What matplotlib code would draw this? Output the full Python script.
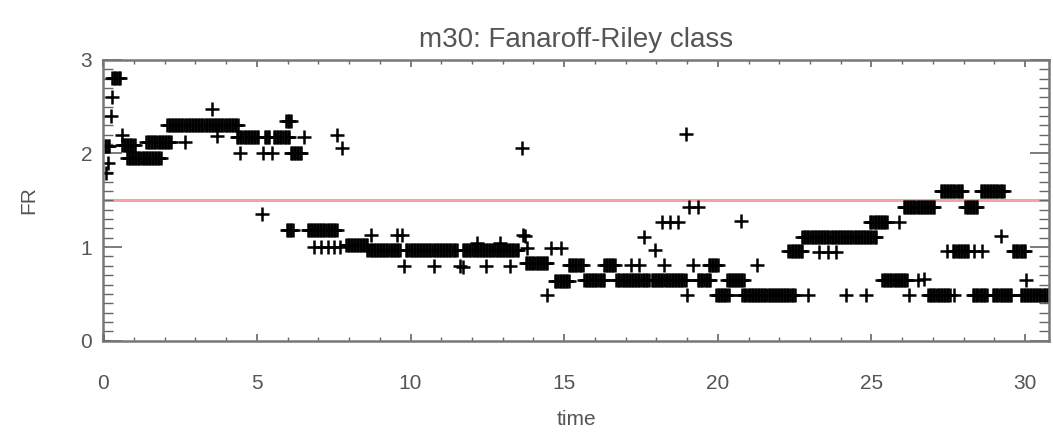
import numpy as np
import matplotlib.pyplot as plt
from matplotlib.ticker import MultipleLocator

plt.rcParams['font.family'] = ['Liberation Sans', 'DejaVu Sans']

# sampling cadence of the FR output
dt = 0.05

# stretches where the class stays at one level: start, end, FR
run_t0 = [0.30, 0.05, 0.62, 0.78, 1.40, 2.08, 4.35, 5.25, 5.55, 5.95, 6.10,
          5.97, 6.65, 7.90, 8.60, 9.85, 11.70, 13.75, 14.70, 15.15, 15.65,
          16.30, 16.70, 17.85, 19.35, 19.70, 19.95, 20.30, 20.80, 22.30,
          22.75, 24.95, 26.05, 27.25, 28.05, 28.55, 27.65, 29.60, 25.35,
          26.85, 28.30, 28.95, 29.85]
run_t1 = [0.55, 0.22, 1.00, 1.90, 2.20, 4.40, 5.05, 5.40, 6.05, 6.10, 6.45,
          6.15, 7.60, 8.60, 9.65, 11.50, 13.50, 14.45, 15.15, 15.60, 16.30,
          16.65, 17.75, 18.95, 19.75, 20.00, 20.35, 20.85, 22.50, 22.75,
          25.15, 25.50, 27.05, 27.95, 28.45, 29.30, 28.15, 30.00, 26.15,
          27.55, 28.75, 29.55, 30.77]
run_fr = [2.81, 2.08, 2.09, 1.95, 2.12, 2.30, 2.18, 2.18, 2.18, 2.35, 2.01,
          1.18, 1.18, 1.02, 0.97, 0.97, 0.97, 0.83, 0.64, 0.81, 0.65,
          0.81, 0.65, 0.65, 0.65, 0.81, 0.49, 0.65, 0.49, 0.96,
          1.11, 1.27, 1.43, 1.60, 1.43, 1.60, 0.96, 0.96, 0.65,
          0.49, 0.49, 0.49, 0.49]

# isolated samples
pt_t = [0.00, 0.30, 0.25, 0.60, 0.15, 0.10, 2.66, 3.55, 3.70, 4.46, 5.20,
        5.48, 6.55, 7.62, 7.78, 5.18, 6.85, 7.10, 7.30, 7.50, 7.70,
        8.73, 9.55, 9.72, 13.66, 13.72, 9.78, 10.76, 11.60, 11.72, 12.47,
        13.25, 12.17, 12.90, 13.64, 13.80, 14.56, 14.90, 14.45, 17.17,
        17.42, 17.60, 17.95, 18.20, 18.45, 18.70, 18.95, 19.05, 19.35,
        18.25, 19.20, 19.00, 20.77, 21.26, 22.94, 24.17, 24.82, 26.23,
        23.30, 23.60, 23.86, 25.90, 26.50, 26.70, 29.20, 30.04, 27.70,
        27.45, 28.35, 28.60]
pt_fr = [0.00, 2.60, 2.40, 2.20, 1.90, 1.79, 2.12, 2.48, 2.19, 2.01, 2.01,
         2.01, 2.18, 2.20, 2.06, 1.35, 1.00, 1.00, 1.00, 1.00, 1.00,
         1.13, 1.13, 1.13, 1.13, 1.12, 0.80, 0.80, 0.80, 0.79, 0.80,
         0.80, 1.04, 1.04, 2.06, 0.99, 0.99, 0.99, 0.49, 0.81,
         0.81, 1.11, 0.97, 1.27, 1.27, 1.27, 2.21, 1.43, 1.43,
         0.81, 0.81, 0.49, 1.28, 0.81, 0.49, 0.49, 0.49, 0.49,
         0.95, 0.95, 0.95, 1.27, 0.65, 0.66, 1.12, 0.65, 0.49,
         0.96, 0.96, 0.96]

fr_threshold = 1.5

t_all, fr_all = list(pt_t), list(pt_fr)
for a, b, v in zip(run_t0, run_t1, run_fr):
    ts = np.arange(a, b + dt / 2, dt)
    t_all.extend(ts)
    fr_all.extend([v] * len(ts))

fig = plt.figure(figsize=(10.53, 4.34), dpi=100)
ax = fig.add_axes([0.098, 0.215, 0.898, 0.647])

ax.axhline(fr_threshold, color='#f4a3a3', lw=2.2, zorder=1)
ax.plot(t_all, fr_all, '+', color='black', ms=9.5, mew=1.8, zorder=2)

ax.set_xlim(0, 30.77)
ax.set_ylim(0, 3.0)
ax.xaxis.set_major_locator(MultipleLocator(5))
ax.xaxis.set_minor_locator(MultipleLocator(1))
ax.yaxis.set_major_locator(MultipleLocator(1))
ax.yaxis.set_minor_locator(MultipleLocator(0.1))

grey = '#555555'
ax.tick_params(which='both', direction='in', top=True, right=True,
               colors='#666666', labelcolor=grey, labelsize=15)
ax.tick_params(axis='x', which='major', length=5, width=1.2, pad=24)
ax.tick_params(axis='x', which='minor', length=3, width=1.0)
ax.tick_params(axis='y', which='major', length=14, width=1.2, pad=8)
ax.tick_params(axis='y', which='minor', length=7, width=1.0)
for sp in ax.spines.values():
    sp.set_color('#777777')
    sp.set_linewidth(1.8)

ax.set_title('m30: Fanaroff-Riley class', fontsize=20, color=grey, pad=9)
ax.set_xlabel('time', fontsize=15, color=grey, labelpad=12)
ax.set_ylabel('FR', fontsize=15, color=grey, labelpad=30)

fig.savefig('out.png', dpi=100)
